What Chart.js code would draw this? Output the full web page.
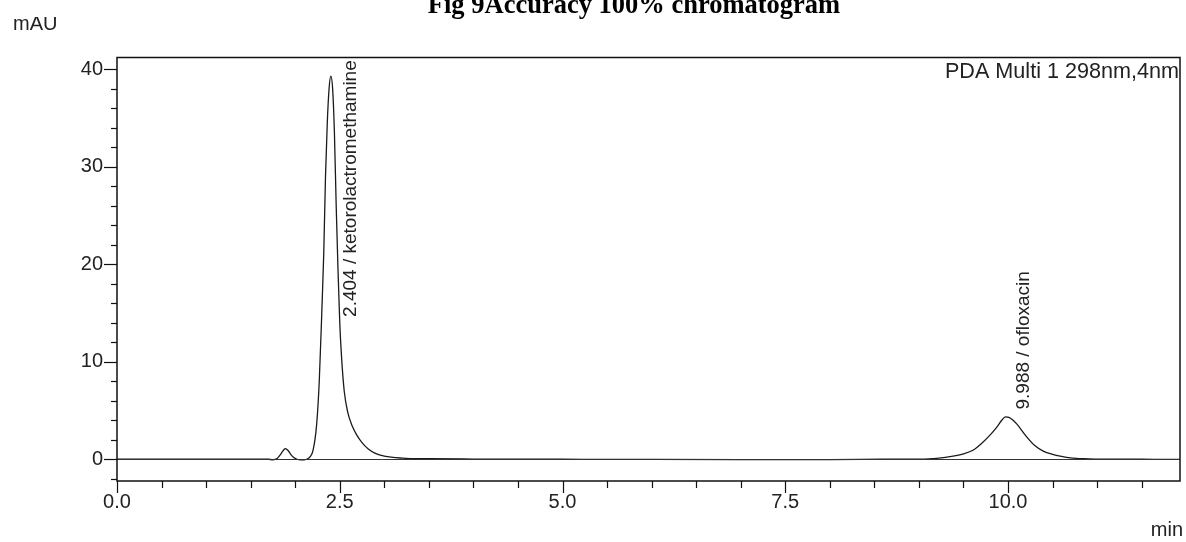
<!DOCTYPE html>
<html><head><meta charset="utf-8">
<script src="https://cdn.jsdelivr.net/npm/chart.js@4.4.1/dist/chart.umd.min.js"></script>
<style>html,body{margin:0;padding:0;background:#fff;}#wrap{width:1186px;height:542px;position:relative;}</style>
</head><body><div id="wrap"><canvas id="c" width="1186" height="542"></canvas></div>
<script>
// retention time (min)
const times = [0.00,0.60,1.20,1.50,1.70,1.75,1.80,1.84,1.87,1.89,1.92,1.95,1.98,2.02,2.06,2.10,2.14,2.17,2.20,2.24,2.27,2.30,2.32,2.34,2.36,2.38,2.40,2.42,2.44,2.46,2.48,2.50,2.52,2.55,2.59,2.64,2.69,2.75,2.82,2.90,3.00,3.20,3.50,4.00,5.00,6.00,7.00,8.00,8.60,9.00,9.20,9.40,9.50,9.60,9.70,9.80,9.87,9.93,9.97,10.01,10.05,10.10,10.20,10.30,10.40,10.50,10.60,10.70,10.85,11.00,11.50,11.93];
// detector signal (mAU)
const signal = [0,0,0,0.02,0,-0.05,0.10,0.55,0.95,1.10,0.90,0.50,0.20,0,-0.05,-0.05,0.05,0.30,0.90,3.5,8.0,15.5,21.0,29.0,34.5,38.0,39.3,38.0,33.5,26.0,19.5,14.0,10.5,7.0,4.8,3.4,2.5,1.7,1.05,0.6,0.32,0.12,0.05,0.02,0,-0.02,-0.03,-0.03,0,0.02,0.10,0.35,0.55,0.90,1.60,2.50,3.25,4.00,4.35,4.30,4.05,3.60,2.40,1.40,0.80,0.50,0.30,0.15,0.05,0.02,0,-0.02];
// peak annotations
const peakTimes = [2.404, 9.988];
const peakNames = ['ketorolactromethamine', 'ofloxacin'];
// axis ticks
const xTickValues = [0,0.5,1,1.5,2,2.5,3,3.5,4,4.5,5,5.5,6,6.5,7,7.5,8,8.5,9,9.5,10,10.5,11,11.5];
const xLabelValues = [0, 2.5, 5, 7.5, 10];
const yTickValues = [-2,0,2,4,6,8,10,12,14,16,18,20,22,24,26,28,30,32,34,36,38,40];
const yLabelValues = [0, 10, 20, 30, 40];

const TXT = '#222';
const labelCfg = [{dx: 25, yAt: 14.6}, {dx: 22, yAt: 5.1}];
const isIn = (arr, v) => arr.some(a => Math.abs(a - v) < 1e-6);

const deco = {
  id: 'deco',
  afterDraw(chart) {
    const ctx = chart.ctx, a = chart.chartArea;
    const xs = chart.scales.x, ys = chart.scales.y;
    ctx.save();
    // baseline at 0
    const y0 = Math.round(ys.getPixelForValue(0)) + 0.5;
    ctx.strokeStyle = '#333'; ctx.lineWidth = 1;
    ctx.beginPath(); ctx.moveTo(a.left, y0); ctx.lineTo(a.right, y0); ctx.stroke();
    // frame
    ctx.strokeStyle = '#111'; ctx.lineWidth = 1.5;
    ctx.strokeRect(a.left, a.top, a.right - a.left, a.bottom - a.top);
    // y ticks
    ctx.lineWidth = 1.2;
    yTickValues.forEach(v => {
      const major = isIn(yLabelValues, v);
      const py = Math.round(ys.getPixelForValue(v)) + 0.5;
      ctx.beginPath(); ctx.moveTo(a.left - (major ? 13 : 6), py); ctx.lineTo(a.left, py); ctx.stroke();
    });
    // x ticks
    xTickValues.forEach(v => {
      const major = isIn(xLabelValues, v);
      const px = Math.round(xs.getPixelForValue(v)) + 0.5;
      ctx.beginPath(); ctx.moveTo(px, a.bottom); ctx.lineTo(px, a.bottom + (major ? 12 : 7)); ctx.stroke();
    });
    // peak labels
    ctx.fillStyle = TXT;
    ctx.font = '19px "Liberation Sans", Arial, sans-serif';
    peakTimes.forEach((t, i) => {
      const px = xs.getPixelForValue(t) + labelCfg[i].dx;
      const py = ys.getPixelForValue(labelCfg[i].yAt);
      ctx.save();
      ctx.translate(px, py);
      ctx.rotate(-Math.PI / 2);
      ctx.textAlign = 'left'; ctx.textBaseline = 'alphabetic';
      ctx.fillText(t.toFixed(3) + ' / ' + peakNames[i], 0, 0);
      ctx.restore();
    });
    // texts
    ctx.font = '21.6px "Liberation Sans", Arial, sans-serif';
    ctx.textAlign = 'right'; ctx.textBaseline = 'alphabetic';
    ctx.fillText('PDA Multi 1 298nm,4nm', a.right - 1, 78);
    ctx.font = '20px "Liberation Sans", Arial, sans-serif';
    ctx.fillText('min', 1183, 536);
    ctx.textAlign = 'left';
    ctx.fillText('mAU', 13, 30);
    ctx.fillStyle = '#fff';
    ctx.fillRect(0, 0, 90, 17);
    ctx.fillStyle = '#000';
    ctx.font = 'bold 26.5px "Liberation Serif", "Times New Roman", serif';
    ctx.textAlign = 'center';
    ctx.fillText('Fig 9Accuracy 100% chromatogram', 634, 13);
    ctx.restore();
  }
};

new Chart(document.getElementById('c'), {
  type: 'line',
  data: {
    datasets: [{
      data: times.map((t, i) => ({x: t, y: signal[i]})),
      borderColor: '#1a1a1a', borderWidth: 1.3, pointRadius: 0,
      cubicInterpolationMode: 'monotone', fill: false
    }]
  },
  options: {
    responsive: false, animation: false,
    layout: {padding: {top: 57.5, right: 6, left: 0, bottom: 0}},
    plugins: {legend: {display: false}, tooltip: {enabled: false}},
    scales: {
      x: {
        type: 'linear', min: 0, max: 11.93,
        afterFit(s) { s.height = 61; },
        afterBuildTicks(s) { s.ticks = xTickValues.map(v => ({value: v})); },
        border: {display: false},
        grid: {color: 'transparent', drawOnChartArea: false, tickLength: 8},
        ticks: {
          autoSkip: false, maxRotation: 0, padding: 1, color: TXT,
          font: {family: '"Liberation Sans", Arial, sans-serif', size: 20},
          callback: v => isIn(xLabelValues, v) ? v.toFixed(1) : ''
        }
      },
      y: {
        type: 'linear', min: -2.23, max: 41.2,
        afterFit(s) { s.width = 117; },
        afterBuildTicks(s) { s.ticks = yTickValues.map(v => ({value: v})); },
        border: {display: false},
        grid: {color: 'transparent', drawOnChartArea: false, tickLength: 13},
        ticks: {
          autoSkip: false, padding: 1, color: TXT,
          font: {family: '"Liberation Sans", Arial, sans-serif', size: 20},
          callback: v => isIn(yLabelValues, v) ? String(v) : ''
        }
      }
    }
  },
  plugins: [deco]
});
</script></body></html>
